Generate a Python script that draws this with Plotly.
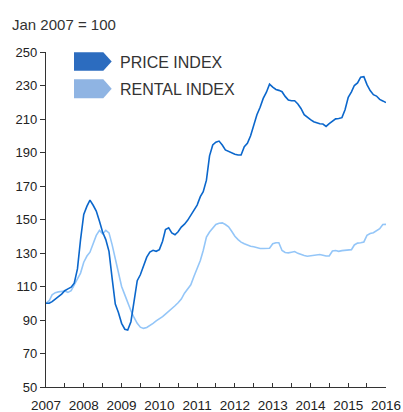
import pandas as pd
import plotly.graph_objects as go

months = pd.date_range("2007-01-01", "2016-01-01", freq="MS").strftime("%Y-%m-%d").tolist()

price_index = [
    100, 100, 101, 102.8, 104, 105.5, 107.5, 108.6, 109.6, 112,
    120.5, 138, 153, 158, 161.6, 158.5, 155, 149, 142.5, 138,
    131, 115, 99.5, 94.5, 88, 84.5, 84, 89, 101, 113.5,
    117, 122, 127.5, 130.5, 131.6, 131, 132, 137, 144, 145,
    142, 140.9, 142.7, 145.5, 147.2, 149.5, 152.8, 155.6, 158.6, 163.6,
    166.6, 173.5, 188, 194.5, 196.2, 196.8, 194.5, 191.5, 190.5, 189.5,
    189, 188.5, 188.5, 193.5, 195.5, 200, 206.5, 212.5, 217, 222.3,
    226, 230.8, 229, 227.6, 227.1, 226.3, 223.5, 221.3, 220.9, 220.9,
    219, 216.3, 212.6, 210.9, 209.6, 208.4, 207.7, 207.2, 207, 205.6,
    207.2, 208.6, 210.1, 210.3, 210.8, 215.5, 223, 226.2, 230, 231.5,
    235, 235.3, 230.5, 227, 224.5, 223.7, 221.7, 220.8, 219.8,
]

rental_index = [
    100, 101.5, 105, 106.3, 106.8, 107, 107.3, 106.5, 107.5, 111,
    114.3, 118, 124.5, 128.2, 130.5, 136, 140.5, 143.5, 141.5, 143.5,
    142, 135, 126, 117, 110, 105, 100, 95.5, 91.5, 88,
    85.7, 85, 85.5, 86.5, 88, 89.5, 90.5, 92, 93.5, 95,
    96.5, 98.5, 100.3, 102.5, 106, 108.5, 111, 116, 121, 125.5,
    131.5, 139.5, 142.5, 145, 147, 147.8, 148, 147, 145.6, 143,
    140, 138, 136.5, 135.5, 134.7, 134, 133.7, 133.2, 132.7, 132.7,
    132.7, 132.8, 135.5, 136.1, 136.1, 131.5, 130.3, 130.1, 130.5, 130.9,
    129.8, 129, 128.5, 128.1, 128.3, 128.8, 129.1, 129.1, 128.7, 128.2,
    128.2, 131.2, 131.5, 131, 131.4, 131.5, 131.5, 132, 134.8, 135.9,
    136.1, 136.6, 140.5, 141.6, 142.1, 143.2, 144.5, 147, 147.1,
]

series_names = ["PRICE INDEX", "RENTAL INDEX"]
y_ticks = [50, 70, 90, 110, 130, 150, 170, 190, 210, 230, 250]
subtitle = "Jan 2007 = 100"

W, H = 403, 412
L, R, T, B = 46, 17, 52, 25
PW, PH = W - L - R, H - T - B

def px(xp, yp):
    return (xp - L) / PW, (H - B - yp) / PH

LINE_DARK = "#0b67cc"
LINE_LIGHT = "#94c6f8"
SW_DARK = "#2c6cbf"
SW_LIGHT = "#8fb4e3"
TXT = "#333333"
FONT = "Liberation Sans, Arial, sans-serif"

fig = go.Figure()
fig.add_trace(go.Scatter(x=months, y=rental_index, mode="lines", name=series_names[1],
                         line=dict(color=LINE_LIGHT, width=1.6)))
fig.add_trace(go.Scatter(x=months, y=price_index, mode="lines", name=series_names[0],
                         line=dict(color=LINE_DARK, width=1.6)))

shapes = []
for (y0, y1, col) in [(52.3, 70.7, SW_DARK), (79.3, 98.3, SW_LIGHT)]:
    x0, x1, x2 = 74, 103.3, 111.7
    ym = (y0 + y1) / 2
    pts = [px(x0, y0), px(x1, y0), px(x2, ym), px(x1, y1), px(x0, y1)]
    path = "M " + " L ".join(f"{a:.5f},{b:.5f}" for a, b in pts) + " Z"
    shapes.append(dict(type="path", xref="paper", yref="paper", path=path,
                       fillcolor=col, line=dict(width=0), layer="above"))

annotations = []
for name, yc in [(series_names[0], 62.3), (series_names[1], 89.0)]:
    ax, ay = px(117.5, yc)
    annotations.append(dict(text=name, x=ax, y=ay, xref="paper", yref="paper",
                            xanchor="left", yanchor="middle", showarrow=False,
                            font=dict(family=FONT, size=16, color=TXT)))
sx, sy = px(9.5, 24.5)
annotations.append(dict(text=subtitle, x=sx, y=sy, xref="paper", yref="paper",
                        xanchor="left", yanchor="middle", showarrow=False,
                        font=dict(family=FONT, size=15, color=TXT)))

fig.update_layout(
    width=W, height=H,
    margin=dict(l=L, r=R, t=T, b=B, pad=0, autoexpand=False),
    paper_bgcolor="white", plot_bgcolor="white",
    showlegend=False,
    shapes=shapes, annotations=annotations,
    font=dict(family=FONT, color=TXT),
)
fig.update_xaxes(
    range=["2007-01-01", "2016-01-01"],
    automargin=False,
    showgrid=False, zeroline=False,
    showline=True, linecolor=TXT, linewidth=1.2,
    ticks="inside", ticklen=4, tickcolor=TXT, tickwidth=1.2,
    dtick="M12", tick0="2007-01-01", tickformat="%Y",
    tickfont=dict(family=FONT, size=13.5, color="#222222"),
    minor=dict(ticks="inside", ticklen=4, tickcolor=TXT, tickwidth=1.2, dtick="M6", showgrid=False),
    ticklabelstandoff=6,
)
fig.update_yaxes(
    range=[50, 250],
    automargin=False,
    showgrid=False, zeroline=False,
    showline=True, linecolor=TXT, linewidth=1.2,
    ticks="outside", ticklen=5, tickcolor=TXT, tickwidth=1.2,
    tickvals=y_ticks,
    tickfont=dict(family=FONT, size=13, color="#222222"),
)

fig.write_html(
    "out.html",
    config={"displayModeBar": False},
    post_script="document.body.style.margin='0';document.body.style.padding='0';document.documentElement.style.overflow='hidden';",
)
